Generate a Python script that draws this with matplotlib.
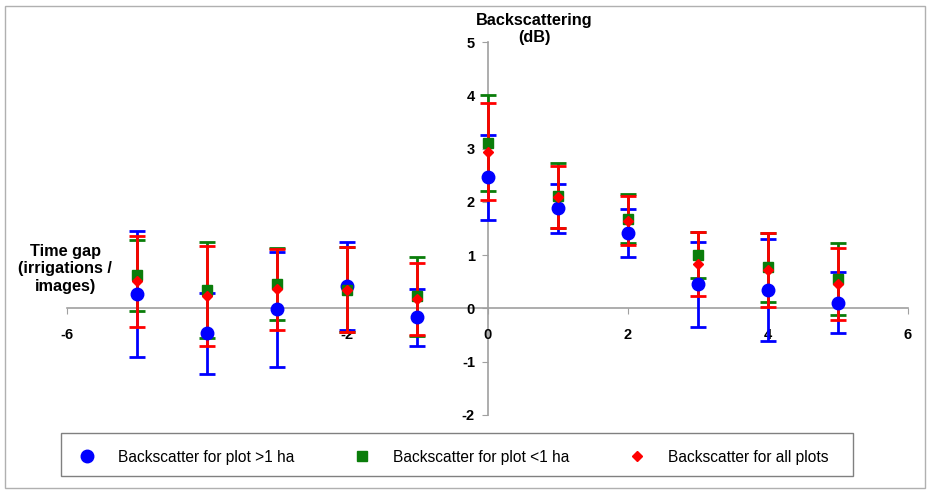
import matplotlib
matplotlib.use("Agg")
import matplotlib.pyplot as plt
from matplotlib.patches import Rectangle

plt.rcParams["font.family"] = ["Liberation Sans", "DejaVu Sans"]
plt.rcParams["axes.unicode_minus"] = False

# time gap (irrigations / images)
gaps = [-5, -4, -3, -2, -1, 0, 1, 2, 3, 4, 5]

# backscatter for plot > 1 ha
big_mean = [0.27, -0.47, -0.02, 0.42, -0.17, 2.46, 1.88, 1.41, 0.45, 0.34, 0.11]
big_err = [1.18, 0.76, 1.07, 0.83, 0.53, 0.80, 0.46, 0.45, 0.79, 0.96, 0.57]

# backscatter for plot < 1 ha
small_mean = [0.62, 0.35, 0.46, 0.35, 0.23, 3.11, 2.11, 1.68, 1.00, 0.77, 0.55]
small_err = [0.66, 0.90, 0.67, 0.80, 0.74, 0.90, 0.61, 0.46, 0.43, 0.65, 0.68]

# backscatter for all plots
all_mean = [0.51, 0.23, 0.36, 0.35, 0.18, 2.94, 2.09, 1.65, 0.84, 0.72, 0.46]
all_err = [0.85, 0.94, 0.76, 0.80, 0.68, 0.91, 0.59, 0.46, 0.60, 0.70, 0.68]

labels = ["Backscatter for plot >1 ha", "Backscatter for plot <1 ha",
          "Backscatter for all plots"]

W, H = 933, 494
fig = plt.figure(figsize=(W / 100, H / 100), dpi=100)
ax = fig.add_axes([67 / W, 1 - 415 / H, 841 / W, 373 / H])

series = [
    (big_mean, big_err, "#0000ff", "o", 9),
    (small_mean, small_err, "#0a7d0a", "s", 7),
    (all_mean, all_err, "#ff0000", "D", 5.5),
]
handles = []
for (mean, err, col, mk, ms), lab in zip(series, labels):
    ax.errorbar(gaps, mean, yerr=err, fmt="none", ecolor=col,
                elinewidth=2, capsize=6, capthick=2, zorder=2)
    h, = ax.plot(gaps, mean, linestyle="none", marker=mk, ms=ms,
                 color=col, markeredgecolor=col, zorder=3, label=lab)
    handles.append(h)

ax.set_xlim(-6, 6)
ax.set_ylim(-2, 5)
ax.set_xticks(range(-6, 7, 2))
ax.set_yticks(range(-2, 6))

for side in ["top", "right"]:
    ax.spines[side].set_visible(False)
ax.spines["left"].set_position(("data", 0))
ax.spines["bottom"].set_position(("data", 0))
for side in ["left", "bottom"]:
    ax.spines[side].set_color("#a0a0a0")
    ax.spines[side].set_linewidth(1.2)
    ax.spines[side].set_zorder(1)

ax.tick_params(axis="both", direction="out", length=4, color="#a0a0a0",
               labelsize=10.5)
ax.tick_params(axis="y", pad=5)
ax.tick_params(axis="x", pad=10)
for t in ax.get_xticklabels() + ax.get_yticklabels():
    t.set_fontweight("bold")

fig.text(534 / W, 1 - 29 / H, "Backscattering\n(dB)", ha="center",
         va="center", fontsize=11.7, fontweight="bold", linespacing=1.22)
fig.text(65 / W, 1 - 269 / H, "Time gap\n(irrigations /\nimages)",
         ha="center", va="center", fontsize=11.7, fontweight="bold",
         linespacing=1.22)

# legend: contents placed without frame, frame drawn as a plain box
leg = fig.legend(handles=handles, loc="center left", ncol=3,
                 bbox_to_anchor=(71.5 / W, 1 - 457 / H),
                 frameon=False, fontsize=11.2, handlelength=2.0,
                 handletextpad=1.0, columnspacing=3.35, borderpad=0,
                 borderaxespad=0, numpoints=1)
fig.add_artist(Rectangle((61 / W, 1 - 476 / H), 792 / W, 43 / H,
                         transform=fig.transFigure, fill=False,
                         edgecolor="#808080", linewidth=1.0))

fig.add_artist(Rectangle((5 / W, 6 / H), 920 / W, 482 / H,
                         transform=fig.transFigure, fill=False,
                         edgecolor="#b0b0b0", linewidth=1.0))

fig.savefig("out.png", dpi=100)
